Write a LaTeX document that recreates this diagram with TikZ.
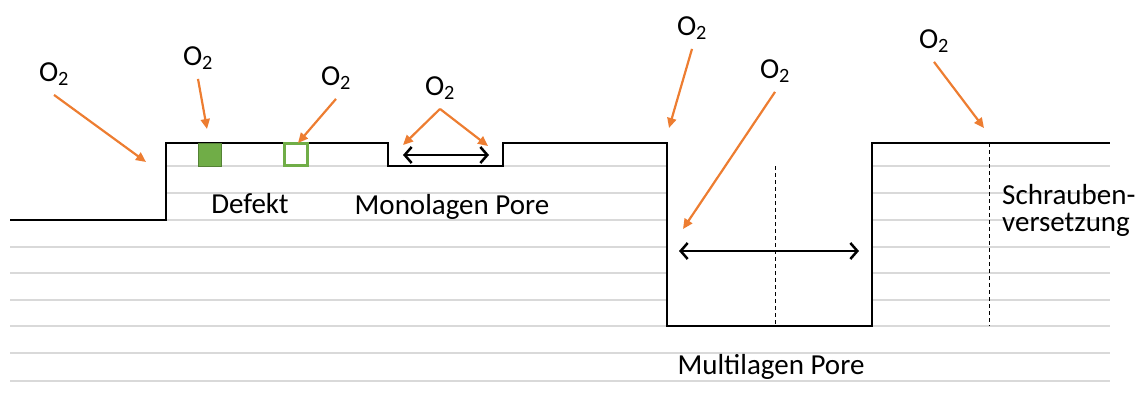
\documentclass[tikz,border=0pt]{standalone}
\usepackage{fontspec}
\setmainfont{Carlito}
\usetikzlibrary{arrows.meta}
\definecolor{oxygen}{RGB}{237,125,49}
\definecolor{defect}{RGB}{112,173,71}
\definecolor{defectedge}{RGB}{84,130,53}
\definecolor{gridgray}{RGB}{217,217,217}
\tikzset{surface/.style={line width=2.8pt,line join=miter},
 layer line/.style={gridgray,line width=1.5pt},
 attack/.style={oxygen,line width=2.2pt,-{Triangle[length=10pt,width=9pt]}},
 pore span/.style={line width=2.5pt,{Straight Barb[length=7pt,width=16pt]}-{Straight Barb[length=7pt,width=16pt]}},
 screw axis/.style={line width=0.8pt,dash pattern=on 4pt off 3pt},
 mol/.style={inner sep=9pt},
 every node/.style={font=\fontsize{29}{27}\selectfont}}
\begin{document}
\begin{tikzpicture}[x=1pt,y=-1pt]
\useasboundingbox (0,0) rectangle (1139,401);
% crystal layers
\foreach \y in {166,193} {
  \draw[layer line] (166,\y)--(667,\y);
  \draw[layer line] (872,\y)--(1110,\y);}
\foreach \y in {220,247,273,300} {
  \draw[layer line] (10,\y)--(667,\y);
  \draw[layer line] (872,\y)--(1110,\y);}
\foreach \y in {326,353,381}
  \draw[layer line] (10,\y)--(1110,\y);
% surface profile
\draw[surface] (10,220)--(166,220)--(166,143)--(388,143)--(388,166)--(503,166)
  --(503,143)--(667,143)--(667,326)--(872,326)--(872,143)--(1110,143);
\draw[screw axis] (775,166)--(775,326);
\draw[screw axis] (989,143)--(989,326);
% defects
\draw[defectedge,fill=defect,line width=1pt] (198,143) rectangle (221,166);
\draw[defect,line width=3pt] (284.5,143.5) rectangle (307.5,165.5);
% pore widths
\coordinate (m1) at (403,155);
\coordinate (m2) at (489,155);
\coordinate (p1) at (679,251);
\coordinate (p2) at (859,251);
\draw[pore span] (m1)--(m2);
\draw[pore span] (p1)--(p2);
% labels
\node[anchor=base] (defekt) at (250,213) {Defekt};
\node[anchor=base] (mono) at (452,214) {Monolagen Pore};
\node[anchor=base] (multi) at (771,374) {Multilagen Pore};
\node[anchor=base west,align=left,inner sep=0pt] (schraube) at (1002,231) {Schrauben-\\versetzung};
% oxygen
\node[mol] (o1) at (54,74) {O\textsubscript{2}};
\node[mol] (o2) at (198,58) {O\textsubscript{2}};
\node[mol] (o3) at (336,78) {O\textsubscript{2}};
\node[mol] (o4) at (440,88) {O\textsubscript{2}};
\node[mol] (o5) at (692,28) {O\textsubscript{2}};
\node[mol] (o6) at (775,71) {O\textsubscript{2}};
\node[mol] (o7) at (934,41) {O\textsubscript{2}};
\coordinate (t1) at (146,162);
\coordinate (t2) at (207,129);
\coordinate (t3) at (298,143);
\coordinate (t4) at (403,145);
\coordinate (t5) at (488,146);
\coordinate (t6) at (669,128);
\coordinate (t7) at (683,229);
\coordinate (t8) at (984,128);
\draw[attack] (o1.south)--(t1);
\draw[attack] (o2.south)--(t2);
\draw[attack] (o3.south)--(t3);
\draw[attack] (o4.south)--(t4);
\draw[attack] (o4.south)--(t5);
\draw[attack] (o5.south)--(t6);
\draw[attack] (o6.south)--(t7);
\draw[attack] (o7.south)--(t8);
\end{tikzpicture}
\end{document}
